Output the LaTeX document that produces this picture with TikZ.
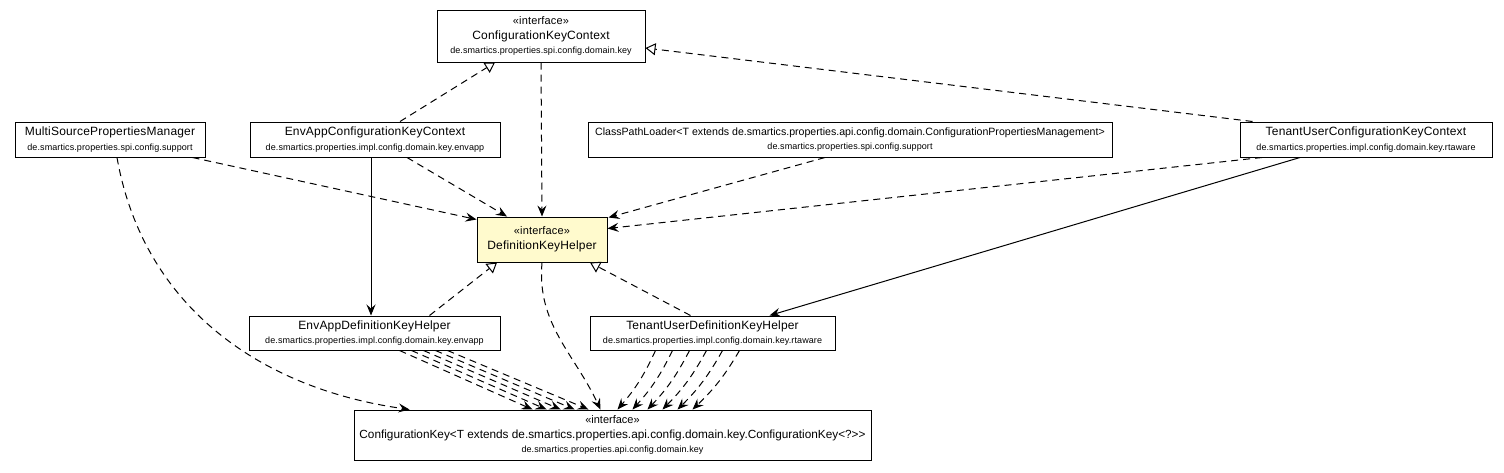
\documentclass[tikz,border=0pt]{standalone}
\usepackage{fontspec}
\setmainfont{Liberation Sans}
\newfontfamily\namefont[LetterSpace=1.5]{Liberation Sans}
\newfontfamily\pkgfont[LetterSpace=1]{Liberation Sans}
\usetikzlibrary{arrows.meta}

\definecolor{ifacefill}{HTML}{FFFACD}
\newcommand{\stereo}{{\fontsize{11}{14.5}\selectfont «interface»}}
\newcommand{\pkgname}[1]{{\pkgfont\fontsize{9}{14.5}\selectfont #1}}

\begin{document}
\begin{tikzpicture}[x=1pt,y=-1pt,
    every node/.style={font=\namefont\fontsize{12}{14.5}\selectfont},
    classbox/.style={draw,line width=1pt,fill=white,align=center,inner sep=0pt},
    ifacebox/.style={classbox,fill=ifacefill},
    longname/.style={font=\rmfamily\fontsize{#1}{14.5}\selectfont},
    depend/.style={line width=1pt,dash pattern=on 7pt off 5pt,
        -{Stealth[length=11pt,width=9pt,inset=4pt]}},
    realize/.style={line width=1pt,dash pattern=on 7pt off 5pt,
        -{Triangle[open,length=10pt,width=12pt,fill=white]}},
    assoc/.style={line width=1pt,-{Stealth[length=11pt,width=9pt,inset=4pt]}}
    ]
    \useasboundingbox (0,0) rectangle (1504,472);

    % top row
    \node[classbox,minimum width=208pt,minimum height=52pt] (ckc) at (541,36)
        {\stereo\\ConfigurationKeyContext\\\pkgname{de.smartics.properties.spi.config.domain.key}};
    \node[classbox,minimum width=190pt,minimum height=35pt] (msm) at (110,139.5)
        {MultiSourcePropertiesManager\\\pkgname{de.smartics.properties.spi.config.support}};
    \node[classbox,minimum width=250pt,minimum height=35pt] (eacc) at (375,139.5)
        {EnvAppConfigurationKeyContext\\\pkgname{de.smartics.properties.impl.config.domain.key.envapp}};
    \node[classbox,longname=10.6,minimum width=524pt,minimum height=35pt] (cpl) at (850,139.5)
        {ClassPathLoader<T extends de.smartics.properties.api.config.domain.ConfigurationPropertiesManagement>\\\pkgname{de.smartics.properties.spi.config.support}};
    \node[classbox,minimum width=252pt,minimum height=35pt] (tucc) at (1366,139.5)
        {TenantUserConfigurationKeyContext\\\pkgname{de.smartics.properties.impl.config.domain.key.rtaware}};

    % middle
    \node[ifacebox,minimum width=130pt,minimum height=45pt] (dkh) at (542,239.5)
        {\stereo\\DefinitionKeyHelper};
    \node[classbox,minimum width=251pt,minimum height=34pt] (eadkh) at (374.5,333)
        {EnvAppDefinitionKeyHelper\\\pkgname{de.smartics.properties.impl.config.domain.key.envapp}};
    \node[classbox,minimum width=245pt,minimum height=34pt] (tudkh) at (712.5,333)
        {TenantUserDefinitionKeyHelper\\\pkgname{de.smartics.properties.impl.config.domain.key.rtaware}};

    % bottom
    \node[classbox,longname=11.8,minimum width=517pt,minimum height=50pt] (ck) at (612.5,435)
        {\stereo\\ConfigurationKey<T extends de.smartics.properties.api.config.domain.key.ConfigurationKey<?>{}>\\\pkgname{de.smartics.properties.api.config.domain.key}};

    % realizations
    \draw[realize] ([xshift=25pt]eacc.north) -- ([xshift=-46pt]ckc.south);
    \draw[realize] ([xshift=13pt]tucc.north west) -- ([yshift=-12pt]ckc.east);
    \draw[realize] ([xshift=55pt]eadkh.north) -- ([xshift=-45pt]dkh.south);
    \draw[realize] ([xshift=-22pt]tudkh.north) -- ([xshift=48pt]dkh.south);

    % dependencies on DefinitionKeyHelper
    \draw[depend] (ckc.south) -- (dkh.north);
    \draw[depend] ([xshift=-13pt]msm.south east) -- ([yshift=-3pt]dkh.north west);
    \draw[depend] ([xshift=32pt]eacc.south) -- ([xshift=-35pt]dkh.north);
    \draw[depend] ([xshift=-25pt]cpl.south) -- ([xshift=1pt,yshift=-1pt]dkh.north east);
    \draw[depend] ([xshift=-104pt]tucc.south) -- ([yshift=11pt]dkh.east);

    % associations
    \draw[assoc] ([xshift=-4pt]eacc.south) -- ([xshift=-3.5pt]eadkh.north);
    \draw[assoc] ([xshift=-66pt]tucc.south) -- ([xshift=57pt]tudkh.north);

    % dependencies on ConfigurationKey
    \draw[depend] (dkh.south) to[out=-95,in=115] ([xshift=-12pt]ck.north);
    \draw[depend] ([xshift=7pt]msm.south) to[out=-80,in=172] ([xshift=56pt]ck.north west);
    \foreach \s/\e in {25/-80,37/-66,49/-52,61/-38,73/-24}
        \draw[depend] ([xshift=\s pt]eadkh.south) -- ([xshift=\e pt]ck.north);
    \foreach \s/\e in {-57/5,-40/20,-23/35,-6/50,10/65,27/80}
        \draw[depend] ([xshift=\s pt]tudkh.south) to[bend left=8] ([xshift=\e pt]ck.north);
\end{tikzpicture}
\end{document}
